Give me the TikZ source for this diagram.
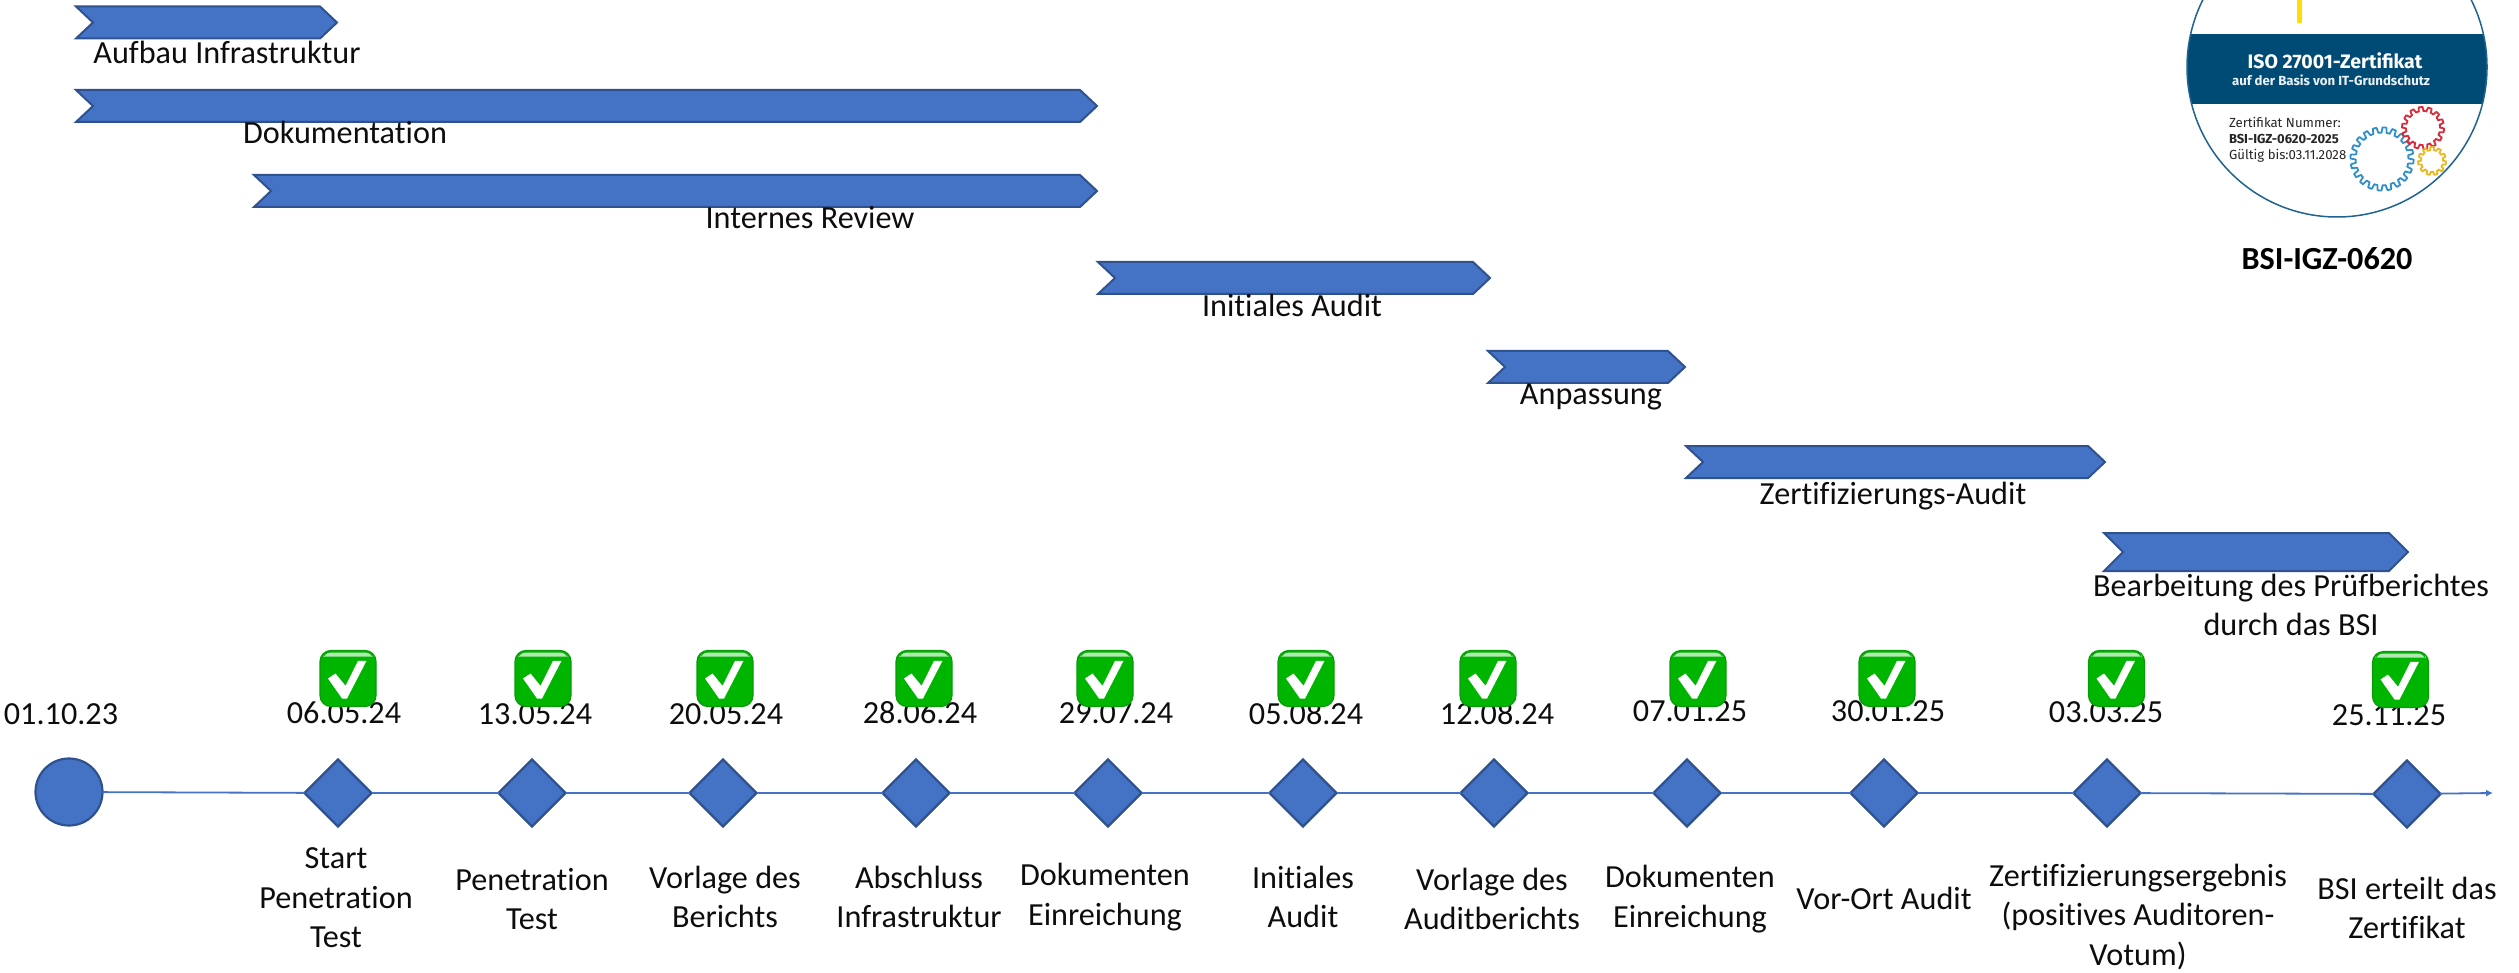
\documentclass[tikz,border=0pt]{standalone}
\usepackage{fontspec}
\setmainfont{Carlito}[Ligatures=NoCommon]
\newfontfamily\sealfont{Fira Sans}
\usetikzlibrary{arrows.meta,shapes.geometric}
\definecolor{ppblue}{HTML}{4472C4}
\definecolor{ppedge}{HTML}{2F528F}
\definecolor{sealblue}{HTML}{004B76}
\definecolor{sealline}{HTML}{1F6390}
\definecolor{okgreen}{HTML}{00B500}
\definecolor{okedge}{HTML}{0A9A0A}
\definecolor{gearblue}{HTML}{2E8FCB}
\definecolor{gearred}{HTML}{DC2A3C}
\definecolor{gearyellow}{HTML}{EDB81F}
\tikzset{
  gantt/.style={fill=ppblue,draw=ppedge,line width=2pt,line join=miter},
  lbl/.style={inner sep=0pt,outer sep=0pt,align=center,font=\fontsize{32.2}{39.5}\selectfont,text=black!95},
  mstone/.style={diamond,aspect=1,fill=ppblue,draw=ppedge,line width=2.2pt,inner sep=0pt,outer sep=0pt,minimum width=67pt,minimum height=67pt},
  startdot/.style={circle,fill=ppblue,draw=ppedge,line width=2.2pt,inner sep=0pt,outer sep=0pt,minimum size=67pt},
  tline/.style={draw=ppblue,line width=1.8pt},
  sealtxt/.style={inner sep=0pt,outer sep=0pt,font=\sealfont},
  gear/.style={line width=1.8pt,fill=none},
  okmark/.pic={
    \fill[okgreen,draw=okedge,line width=1.2pt,rounded corners=11pt] (-28,-28) rectangle (28,28);
    \fill[white!70!okgreen,rounded corners=8pt] (-25,-26) rectangle (25,-16);
    \fill[okgreen,rounded corners=4pt] (-27,-22) rectangle (27,10);
    \fill[white] (-20,0) -- (-12.5,-5) -- (-2.5,7.3) -- (10,-17.7) -- (18.5,-17.7) -- (-1,20) -- (-6,20) -- cycle;
  }
}
% x1, x2, top, bottom, depth of notch and head
\newcommand{\ganttbar}[5]{%
  \draw[gantt] (#1,#3) -- ({#2-#5},#3) -- (#2,{(#3+#4)/2}) -- ({#2-#5},#4) -- (#1,#4) -- ({#1+#5},{(#3+#4)/2}) -- cycle;}
\begin{document}
\begin{tikzpicture}[x=1pt,y=-1pt]
\useasboundingbox (0,0) rectangle (2519,973);

% Phase bars
\ganttbar{76}{337}{6.5}{38.5}{17}
\ganttbar{76}{1097}{90}{122}{17}
\ganttbar{254}{1097}{175}{207}{17}
\ganttbar{1098}{1490}{262}{294}{17}
\ganttbar{1488}{1685}{351}{383}{17}
\ganttbar{1686}{2105}{446}{478}{17}
\ganttbar{2104}{2408}{533}{571}{19}

\node[lbl] (p1) at (227,52) {Aufbau Infrastruktur};
\node[lbl] (p2) at (345,132) {Dokumentation};
\node[lbl] (p3) at (810,218) {Internes Review};
\node[lbl] (p4) at (1292,305) {Initiales Audit};
\node[lbl] (p5) at (1591,397) {Anpassung};
\node[lbl] (p6) at (1893,496) {Zertifizierungs-Audit};
\node[lbl] (p7) at (2291,605) {Bearbeitung des Prüfberichtes\\durch das BSI};

% Timeline
\node[startdot] (s) at (69,792) {};
\node[mstone] (m1) at (338,793) {};
\node[mstone] (m2) at (532,793) {};
\node[mstone] (m3) at (723,793) {};
\node[mstone] (m4) at (916,793) {};
\node[mstone] (m5) at (1108,793) {};
\node[mstone] (m6) at (1303,793) {};
\node[mstone] (m7) at (1494,793) {};
\node[mstone] (m8) at (1687,793) {};
\node[mstone] (m9) at (1884,793) {};
\node[mstone] (m10) at (2107,793) {};
\node[mstone] (m11) at (2407,794) {};
\coordinate (tlend) at (2493,793);
\draw[tline] (s) -- (m1);
\draw[tline] (m1) -- (m2);
\draw[tline] (m2) -- (m3);
\draw[tline] (m3) -- (m4);
\draw[tline] (m4) -- (m5);
\draw[tline] (m5) -- (m6);
\draw[tline] (m6) -- (m7);
\draw[tline] (m7) -- (m8);
\draw[tline] (m8) -- (m9);
\draw[tline] (m9) -- (m10);
\draw[tline] (m10) -- (m11);
\draw[tline,-{Latex[length=7pt,width=7pt]}] (m11) -- (tlend);

% Dates
\node[lbl] (d0) at (61,714) {01.10.23};
\node[lbl] (d1) at (344,713) {06.05.24};
\node[lbl] (d2) at (535,714) {13.05.24};
\node[lbl] (d3) at (726,714) {20.05.24};
\node[lbl] (d4) at (920,713) {28.06.24};
\node[lbl] (d5) at (1116,713) {29.07.24};
\node[lbl] (d6) at (1306,714) {05.08.24};
\node[lbl] (d7) at (1497,714) {12.08.24};
\node[lbl] (d8) at (1690,711) {07.01.25};
\node[lbl] (d9) at (1888,711) {30.01.25};
\node[lbl] (d10) at (2106,712) {03.03.25};
\node[lbl] (d11) at (2389,715) {25.11.25};

% Check marks
\pic at (348,678.5) {okmark};
\pic at (543,678.5) {okmark};
\pic at (725,678.5) {okmark};
\pic at (924,678.5) {okmark};
\pic at (1105,678.5) {okmark};
\pic at (1306,678.5) {okmark};
\pic at (1488,678.5) {okmark};
\pic at (1698,678.5) {okmark};
\pic at (1887,678.5) {okmark};
\pic at (2116.5,678.5) {okmark};
\pic at (2400.5,679.5) {okmark};

% Milestone labels
\node[lbl] (t1) at (336,898) {Start\\Penetration\\Test};
\node[lbl] (t2) at (532,899) {Penetration\\Test};
\node[lbl] (t3) at (725,897) {Vorlage des\\Berichts};
\node[lbl] (t4) at (919,897) {Abschluss\\Infrastruktur};
\node[lbl] (t5) at (1105,897) {Dokumenten\\Einreichung};
\node[lbl] (t6) at (1303,897) {Initiales\\Audit};
\node[lbl] (t7) at (1492,899) {Vorlage des\\Auditberichts};
\node[lbl] (t8) at (1690,899) {Dokumenten\\Einreichung};
\node[lbl] (t9) at (1884,898) {Vor-Ort Audit};
\node[lbl] (t10) at (2138,917) {Zertifizierungsergebnis\\(positives Auditoren-\\Votum)};
\node[lbl] (t11) at (2407,908) {BSI erteilt das\\Zertifikat};

% Seal
\fill[white] (2337,67) circle (150);
\begin{scope}
  \clip (2337,67) circle (150);
  \fill[sealblue] (2180,34) rectangle (2500,104);
\end{scope}
\draw[sealline,line width=1.5pt] (2337,67) circle (150);
\fill[yellow!80!orange] (2297,0) rectangle (2301.5,23);
\node[sealtxt,white,font=\sealfont\bfseries\fontsize{19.5}{24}\selectfont] (sa) at (2335,61) {ISO 27001-Zertifikat};
\node[sealtxt,white!92!sealblue,font=\sealfont\bfseries\fontsize{13.2}{18}\selectfont] (sb) at (2331,80) {auf der Basis von IT-Grundschutz};
\node[sealtxt,anchor=west,text=black!85,font=\sealfont\fontsize{13.2}{16}\selectfont] (sc) at (2229,122) {Zertifikat Nummer:};
\node[sealtxt,anchor=west,text=black!85,font=\sealfont\bfseries\fontsize{13}{16}\selectfont] (sd) at (2229,139) {BSI-IGZ-0620-2025};
\node[sealtxt,anchor=west,text=black!85,font=\sealfont\fontsize{13.2}{16}\selectfont] (se) at (2229,156) {Gültig bis:03.11.2028};
\draw[gear,gearblue] plot[samples=481,domain=0:360] ({2382+(29+2.6*max(-1,min(1,3*sin(20*\x))))*cos(\x)},{159+(29+2.6*max(-1,min(1,3*sin(20*\x))))*sin(\x)}) -- cycle;
\draw[gear,gearred] plot[samples=481,domain=0:360] ({2423+(19+2*max(-1,min(1,3*sin(14*\x))))*cos(\x)},{128+(19+2*max(-1,min(1,3*sin(14*\x))))*sin(\x)}) -- cycle;
\draw[gear,gearyellow] plot[samples=361,domain=0:360] ({2432+(12.5+1.5*max(-1,min(1,3*sin(11*\x))))*cos(\x)},{161+(12.5+1.5*max(-1,min(1,3*sin(11*\x))))*sin(\x)}) -- cycle;
\node[inner sep=0pt,outer sep=0pt,font=\bfseries\fontsize{32.2}{40}\selectfont] (sn) at (2327,259) {BSI-IGZ-0620};
\end{tikzpicture}
\end{document}
